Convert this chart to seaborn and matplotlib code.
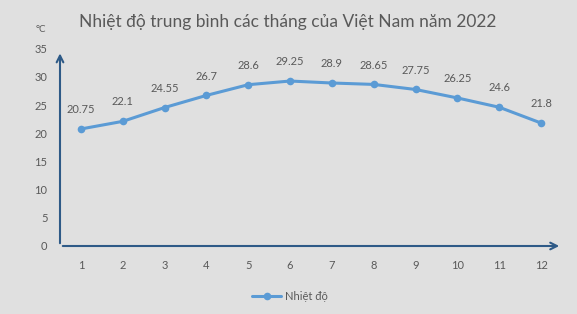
import matplotlib
matplotlib.use("Agg")
import matplotlib.pyplot as plt
import seaborn as sns
import pandas as pd

months = [1, 2, 3, 4, 5, 6, 7, 8, 9, 10, 11, 12]
temps = [20.75, 22.1, 24.55, 26.7, 28.6, 29.25, 28.9, 28.65, 27.75, 26.25, 24.6, 21.8]
labels = ["20.75", "22.1", "24.55", "26.7", "28.6", "29.25", "28.9", "28.65", "27.75", "26.25", "24.6", "21.8"]
yticks = [0, 5, 10, 15, 20, 25, 30, 35]
title = "Nhiệt độ trung bình các tháng của Việt Nam năm 2022"
series_name = "Nhiệt độ"

sns.set_theme(style="white")
plt.rcParams['font.family'] = ['Lato', 'DejaVu Sans']

BG = "#e0e0e0"
LINE = "#5b9bd5"
AXC = "#2e5a87"
TXT = "#595959"

df = pd.DataFrame({"month": months, "temp": temps, "series": series_name})

fig = plt.figure(figsize=(5.77, 3.14), dpi=100, facecolor=BG)
ax = fig.add_axes([60/577, 1-246/314, 502/577, (246-48.6)/314])
ax.set_facecolor(BG)

sns.lineplot(data=df, x="month", y="temp", hue="series", palette=[LINE], marker="o",
             markersize=5.5, markeredgewidth=0, linewidth=2.2, ax=ax, legend=False)

for m, t, lab in zip(months, temps, labels):
    ax.annotate(lab, (m, t), xytext=(0, 10), textcoords="offset points",
                ha="center", va="bottom", fontsize=8, color=TXT)

ax.set_xlim(0.5, 12.5)
ax.set_ylim(0, 35)
ax.set_xticks(months)
ax.set_xticklabels([str(m) for m in months])
ax.set_yticks(yticks)
ax.tick_params(axis="both", length=0, labelsize=8, labelcolor=TXT)
ax.tick_params(axis="x", pad=10)
ax.tick_params(axis="y", pad=9)
ax.set_xlabel("")
ax.set_ylabel("")
for s in ["top", "right", "left", "bottom"]:
    ax.spines[s].set_visible(False)

# axes with arrows
ax.annotate("", xy=(1.0, 0), xytext=(0, 0), xycoords="axes fraction",
            arrowprops=dict(arrowstyle="->", color=AXC, lw=1.5, mutation_scale=12))
ax.annotate("", xy=(0, 0.99), xytext=(0, 0), xycoords="axes fraction",
            arrowprops=dict(arrowstyle="->", color=AXC, lw=1.5, mutation_scale=12))

fig.text(288/577, 1-22/314, title, ha="center", va="center", fontsize=12.5, color=TXT)
fig.text(41/577, 1-29/314, "°C", ha="center", va="center", fontsize=7, color=TXT)

# legend
from matplotlib.lines import Line2D
h = Line2D([], [], color=LINE, marker="o", markersize=5.5, markeredgewidth=0, linewidth=2.2)
fig.legend([h], [series_name], loc="center", bbox_to_anchor=(290/577, 1-296/314),
           frameon=False, fontsize=8, labelcolor=TXT, handlelength=2.6, handletextpad=0.3)

fig.savefig("out.png", dpi=100, facecolor=BG)
